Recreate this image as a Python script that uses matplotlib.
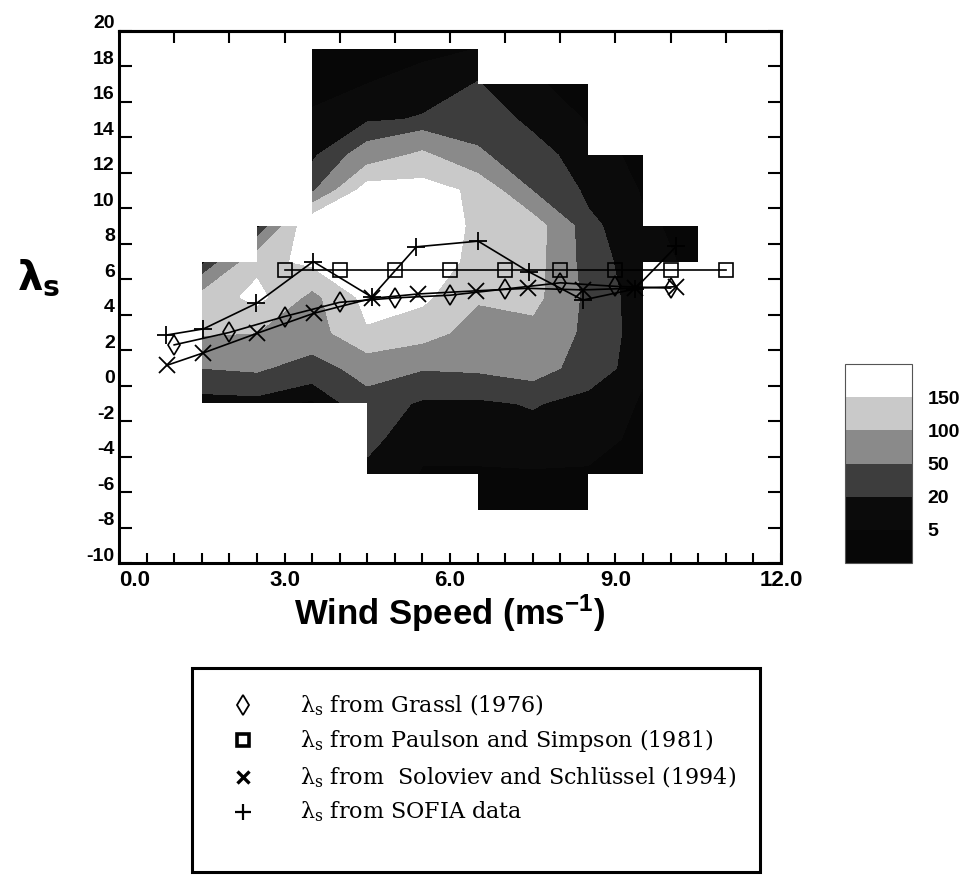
import numpy as np
import matplotlib.pyplot as plt
from matplotlib.ticker import FormatStrFormatter, MultipleLocator
from matplotlib.transforms import ScaledTranslation
from matplotlib.patches import Rectangle, PathPatch
from matplotlib.path import Path
from matplotlib.lines import Line2D

plt.rcParams['axes.unicode_minus'] = False
plt.rcParams['mathtext.default'] = 'regular'

nan = np.nan

# density field: nodes in wind speed (u) and lambda_s (l)
grid_u = [1.5, 2.5, 3.5, 4.5, 5.5, 6.5, 7.5, 8.5, 9.5, 10.5]
grid_l = [-7, -5, -3, -1, 1, 3, 5, 7, 9, 11, 13, 15, 17, 19]
# one column per wind speed node, lambda from -7 up to 19 (nan = no data)
col_15 = [nan, nan, nan, 8, 50, 105, 115, 8, nan, nan, nan, nan, nan, nan]
col_25 = [nan, nan, nan, 10, 55, 100, 165, 135, 8, nan, nan, nan, nan, nan]
col_35 = [nan, nan, nan, 2, 33, 75, 85, 160, 200, 42, 14, 6, 3, 2]
col_45 = [nan, 15, 25, 35, 65, 145, 165, 190, 210, 175, 70, 16, 5, 2]
col_55 = [nan, 4, 8, 16, 52, 120, 160, 190, 200, 170, 110, 22, 8, 3]
col_65 = [2, 4, 8, 15, 55, 80, 105, 130, 135, 140, 55, 35, 21, 5]
col_75 = [2, 4, 10, 22, 65, 85, 115, 120, 125, 48, 30, 14, 6, nan]
col_85 = [2, 4, 8, 11, 35, 40, 38, 30, 25, 15, 8, 4, 2, nan]
col_95 = [nan, 2, 3, 4, 6, 7, 7, 8, 6, 4, 3, nan, nan, nan]
col_105 = [nan, nan, nan, nan, nan, nan, nan, 3, 3, nan, nan, nan, nan, nan]

levels = [0, 5, 20, 50, 100, 150, 250]
level_colors = ['#070707', '#0b0b0b', '#3d3d3d', '#8a8a8a', '#c9c9c9', '#ffffff']
cbar_ticks = [5, 20, 50, 100, 150]

# lambda_s curves
grassl_u = [1, 2, 3, 4, 5, 6, 7, 8, 9, 10]
grassl_l = [2.3, 3.0, 3.9, 4.7, 4.95, 5.1, 5.45, 5.8, 5.6, 5.5]
paulson_u = [3, 4, 5, 6, 7, 8, 9, 10, 11]
paulson_l = [6.5, 6.5, 6.5, 6.5, 6.5, 6.5, 6.5, 6.5, 6.5]
solov_u = [0.87, 1.53, 2.5, 3.53, 4.58, 5.42, 6.48, 7.41, 8.41, 9.35, 10.1]
solov_l = [1.15, 1.85, 2.95, 4.08, 4.92, 5.17, 5.35, 5.49, 5.4, 5.5, 5.58]
sofia_u = [0.85, 1.53, 2.49, 3.52, 4.58, 5.39, 6.51, 7.43, 8.41, 9.35, 10.1]
sofia_l = [2.85, 3.2, 4.64, 7.0, 5.0, 7.83, 8.15, 6.42, 4.83, 5.45, 7.85]

legend_labels = [r'$λ_s$ from Grassl (1976)',
                 r'$λ_s$ from Paulson and Simpson (1981)',
                 r'$λ_s$ from  Soloviev and Schlüssel (1994)',
                 r'$λ_s$ from SOFIA data']

W, H = 969, 890
fig = plt.figure(figsize=(W / 100, H / 100), dpi=100)
ax = fig.add_axes([119 / W, 1 - 563 / H, 662 / W, 532 / H])

Z = np.ma.masked_invalid(np.array([col_15, col_25, col_35, col_45, col_55,
                                   col_65, col_75, col_85, col_95, col_105]).T)

# outline of the cells that have data on all four corners (staircase)
valid = ~Z.mask
quad = valid[:-1, :-1] & valid[1:, :-1] & valid[:-1, 1:] & valid[1:, 1:]
top_edge, bot_edge = [], []
for i in range(len(grid_u) - 1):
    rows = np.where(quad[:, i])[0]
    lo, hi = grid_l[rows.min()], grid_l[rows.max() + 1]
    top_edge += [(grid_u[i], hi), (grid_u[i + 1], hi)]
    bot_edge.append([(grid_u[i + 1], lo), (grid_u[i], lo)])
outline = top_edge
for seg in reversed(bot_edge):
    outline = outline + seg
clip = PathPatch(Path(outline + [outline[0]], closed=True), transform=ax.transData)

cs = ax.contourf(grid_u, grid_l, Z.filled(0), levels=levels, colors=level_colors,
                 zorder=1)
cs.set_edgecolor('face')
cs.set_linewidth(0.4)
cs.set_clip_path(clip)

lw = 1.2
ax.plot(grassl_u, grassl_l, color='black', lw=lw, marker='d', ms=10,
        mfc='none', mec='black', mew=1.2, zorder=3)
ax.plot(paulson_u, paulson_l, color='black', lw=lw, marker='s', ms=10,
        mfc='none', mec='black', mew=1.2, zorder=3)
ax.plot(solov_u, solov_l, color='black', lw=lw, marker='x', ms=11,
        mec='black', mew=1.3, zorder=3)
ax.plot(sofia_u, sofia_l, color='black', lw=lw, marker='+', ms=13,
        mec='black', mew=1.3, zorder=3)

ax.set_xlim(0, 12)
ax.set_ylim(-10, 20)
ax.set_xticks([0, 3, 6, 9, 12])
ax.xaxis.set_minor_locator(MultipleLocator(0.5))
ax.set_yticks(np.arange(-10, 21, 2))
ax.xaxis.set_major_formatter(FormatStrFormatter('%.1f'))
ax.yaxis.set_major_formatter(FormatStrFormatter('%d'))

for s in ax.spines.values():
    s.set_linewidth(2.2)
ax.tick_params(axis='x', which='both', direction='in', length=7, width=1.5,
               pad=5, labelsize=16)
ax.tick_params(axis='y', direction='in', length=9.5, width=1.5, pad=3,
               labelsize=14, right=True)
for lab in ax.get_xticklabels() + ax.get_yticklabels():
    lab.set_fontweight('bold')
    lab.set_family('Liberation Sans')

up = ScaledTranslation(0, 0.09, fig.dpi_scale_trans)
for lab in ax.get_yticklabels():
    lab.set_transform(lab.get_transform() + up)
first = ax.get_xticklabels()[0]
first.set_transform(first.get_transform() + ScaledTranslation(0.16, 0, fig.dpi_scale_trans))

top = ax.secondary_xaxis('top')
top.set_xticks(np.arange(1, 12))
top.tick_params(direction='in', length=8.5, width=1.5, labeltop=False)
top.spines['top'].set_linewidth(2.2)

ax.set_xlabel(r'Wind Speed (ms$^{-1}$)', fontsize=25, fontweight='bold',
              family='Liberation Sans')
ax.xaxis.set_label_coords(0.5, -0.056)

fig.text(17 / W, 1 - 278 / H, r'$λ_s$', fontsize=29, fontweight='bold',
         family='DejaVu Sans', va='center', ha='left')

# colour key
cax = fig.add_axes([845 / W, 1 - 563 / H, 67 / W, 199 / H])
cb = fig.colorbar(cs, cax=cax, ticks=cbar_ticks)
cb.outline.set_linewidth(0.8)
cb.outline.set_edgecolor('#555555')
cax.tick_params(length=0, pad=11, labelsize=14)
for lab in cax.get_yticklabels():
    lab.set_fontweight('bold')
    lab.set_family('Liberation Sans')

# legend box
fig.add_artist(Rectangle((192 / W, 1 - 872 / H), 568 / W, 204 / H,
                         transform=fig.transFigure, fill=False, lw=2.2, ec='black'))
row_y = [705, 740, 777, 812]
leg_markers = [dict(marker='d', ms=10, mfc='none', mew=1.3),
               dict(marker='s', ms=9, mfc='none', mew=2.6),
               dict(marker='x', ms=8, mew=2.4),
               dict(marker='+', ms=11, mew=1.6)]
for yy, mk, lab in zip(row_y, leg_markers, legend_labels):
    fig.add_artist(Line2D([243 / W], [1 - yy / H], transform=fig.transFigure,
                          color='black', mec='black', ls='none', **mk))
    fig.text(300 / W, 1 - yy / H, lab, fontsize=16, family='DejaVu Serif',
             va='center', ha='left')

fig.savefig('out.png', dpi=100)
